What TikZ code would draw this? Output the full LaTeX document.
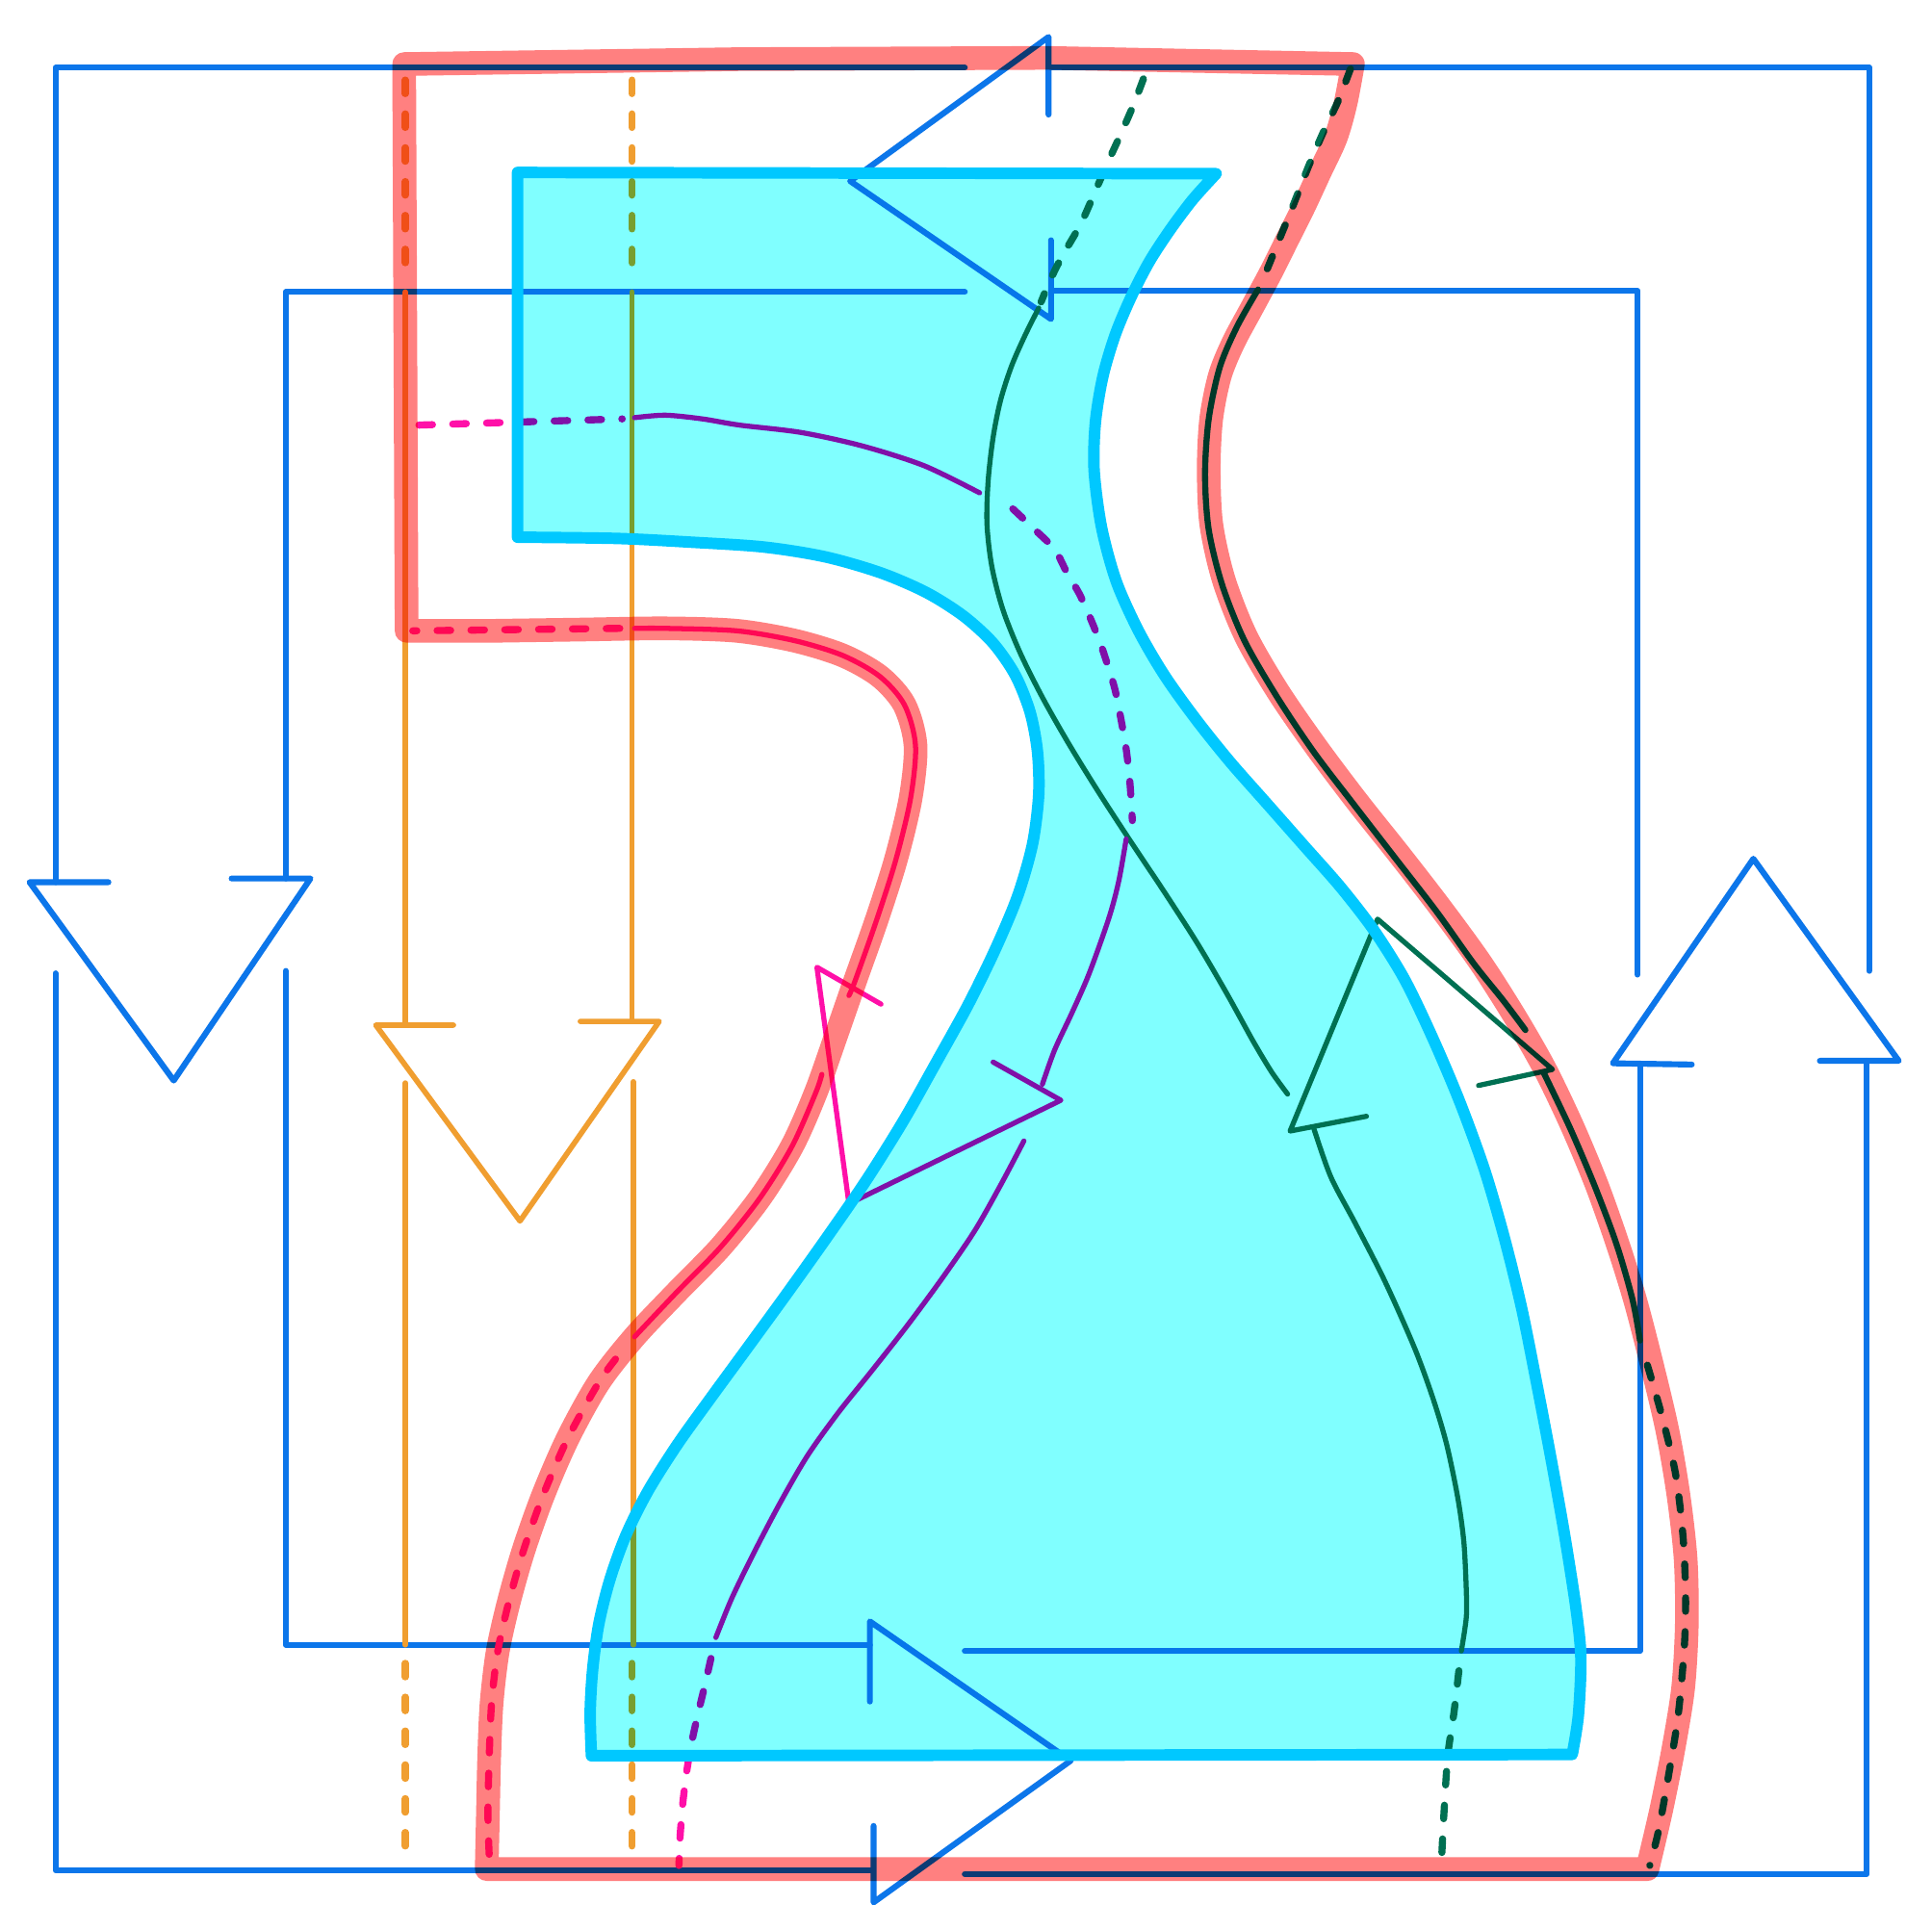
\documentclass[tikz,border=0pt]{standalone}
\definecolor{cblue}{RGB}{12,118,234}
\definecolor{corange}{RGB}{240,158,48}
\definecolor{cmag}{RGB}{255,16,168}
\definecolor{cgreen}{RGB}{0,112,82}
\definecolor{cred}{RGB}{255,128,128}
\definecolor{cfill}{RGB}{128,255,255}
\definecolor{cedge}{RGB}{0,200,255}
\begin{document}
\begin{tikzpicture}[x=0.0128cm,y=-0.0128cm, line cap=round, line join=round,
 bl/.style={draw=cblue,line width=1.75pt},
 orl/.style={draw=corange,line width=1.6pt},
 ord/.style={draw=corange,line width=2.1pt,dash pattern=on 4pt off 6pt},
 gl/.style={draw=cgreen,line width=1.5pt},
 gdl/.style={draw=cgreen,line width=1.8pt},
 gd/.style={draw=cgreen,line width=2.1pt,dash pattern=on 4pt off 6pt},
 ml/.style={draw=cmag,line width=1.5pt},
 md/.style={draw=cmag,line width=2.1pt,dash pattern=on 4pt off 6pt}]
\useasboundingbox (0,0) rectangle (1568,1566);
\fill[white] (0,0) rectangle (1568,1566);
% blue loops
\draw[bl] (783,55) -- (45,55) -- (45,716);
\draw[bl] (88,716) -- (24,716) -- (141,877) -- (252,713) -- (188,713);
\draw[bl] (45,790) -- (45,1518) -- (708,1518);
\draw[bl] (706,1381) -- (706,1316) -- (869,1429) -- (709,1544) -- (709,1482);
\draw[bl] (783,1521) -- (1515,1521) -- (1515,861);
\draw[bl] (1373,864) -- (1309,863) -- (1423,697) -- (1541,861) -- (1477,861);
\draw[bl] (1517,788) -- (1517,55) -- (851,55);
\draw[bl] (851,93) -- (851,30) -- (690,147) -- (853,259) -- (853,195);
\draw[bl] (783,237) -- (232,237) -- (232,713);
\draw[bl] (232,788) -- (232,1335) -- (706,1335);
\draw[bl] (783,1340) -- (1331,1340) -- (1331,864);
\draw[bl] (1329,791) -- (1329,236) -- (853,236);
% orange
\draw[ord] (329,65) -- (329,226);
\draw[orl] (329,237) -- (329,832);
\draw[orl] (368,832) -- (305,832) -- (422,991) -- (535,829) -- (471,829);
\draw[orl] (329,879) -- (329,1335);
\draw[ord] (329,1350) -- (329,1508);
\draw[ord] (513,65) -- (513,226);
\draw[orl] (513,237) -- (513,829);
\draw[orl] (514,878) -- (514,1335);
\draw[ord] (513,1350) -- (513,1506);
% green
\draw[gd] plot[smooth] coordinates {(928,64) (920,85) (910,108) (899,132) (889,155) (877,182) (862,208) (852,228) (845,245)};
\draw[gl] plot[smooth] coordinates {(843,250) (832,272) (821,297) (812,325) (806,355) (802,390) (801,425) (805,460) (814,495) (828,530) (846,566) (867,603) (891,642) (917,682) (945,724) (972,766) (996,807) (1017,845) (1032,870) (1045,888)};
\draw[gl] (1109,906) -- (1047,918) -- (1118,746) -- (1260,868) -- (1200,881);
\draw[gl] plot[smooth] coordinates {(1066,915) (1080,955) (1100,993) (1124,1040) (1148,1094) (1163,1135) (1174,1172) (1183,1215) (1188,1251) (1190,1290) (1190,1313) (1186,1340)};
\draw[gd] plot[smooth] coordinates {(1184,1356) (1180,1390) (1175,1425) (1172,1470) (1170,1508)};
\draw[gd] plot[smooth] coordinates {(1096,56) (1086,82) (1075,105) (1062,135) (1049,168) (1038,195) (1027,222)};
\draw[gdl] plot[smooth] coordinates {(1021,235) (1004,265) (990,298) (981,340) (978,385) (981,430) (992,475) (1010,520) (1036,565) (1066,610) (1098,652) (1132,696) (1166,740) (1196,782) (1220,812) (1238,836)};
\draw[gdl] plot[smooth] coordinates {(1253,871) (1274,915) (1294,962) (1312,1010) (1325,1055) (1331,1088)};
\draw[gd] plot[smooth] coordinates {(1337,1108) (1349,1150) (1360,1197) (1366,1248) (1368,1295) (1367,1336) (1362,1392) (1354,1442) (1346,1486) (1339,1514)};
% magenta
\draw[md] (340,345) -- (505,340);
\draw[ml] plot[smooth] coordinates {(515,339) (540,337) (570,340) (600,345) (650,351) (700,362) (750,378) (795,400)};
\draw[md] plot[smooth] coordinates {(822,413) (840,430) (856,446) (866,465) (876,482) (885,502) (893,522) (899,540) (905,560) (910,585) (914,608) (917,635) (919,666)};
\draw[ml] plot[smooth] coordinates {(914,681) (908,715) (900,745) (884,790) (870,822) (856,852) (846,880)};
\draw[ml] (806,862) -- (861,893) -- (689,977) -- (663,785) -- (715,815);
\draw[ml] plot[smooth] coordinates {(831,926) (812,962) (791,999) (765,1037) (737,1075) (708,1112) (680,1147) (655,1182) (633,1220) (612,1260) (594,1297) (581,1329)};
\draw[md] plot[smooth] coordinates {(577,1346) (572,1368) (566,1393) (561,1416) (557,1440) (554,1465) (552,1490) (551,1514)};
\draw[md] plot[smooth] coordinates {(397,1505) (396,1472) (397,1427) (399,1382) (404,1340) (413,1300) (425,1258) (441,1213) (461,1167) (486,1122) (502,1100)};
\draw[ml] plot[smooth] coordinates {(515,1085) (549,1049) (585,1012) (617,972) (643,930) (662,887) (667,872)};
\draw[ml] plot[smooth] coordinates {(689,808) (694,796) (711,748) (727,698) (739,648) (743,605) (734,572) (714,549) (684,532) (645,520) (598,512) (540,510) (515,510)};
\draw[md] (503,510) -- (335,512);
% red band
\begin{scope}[blend mode=multiply]
\draw[draw=cred,line width=7pt] (330,512) -- (328,52) -- (600,48) -- (850,47) -- (1098,52) -- plot[smooth] coordinates {(1098,52) (1092,84) (1084,112) (1071,140) (1058,168) (1044,196) (1031,222) (1016,250) (1001,278) (990,305) (983,340) (981,380) (983,425) (993,470) (1011,516) (1037,561) (1068,606) (1101,650) (1136,694) (1170,738) (1202,782) (1230,826) (1254,868) (1276,914) (1296,962) (1313,1010) (1327,1055) (1340,1105) (1353,1160) (1362,1212) (1368,1265) (1369,1318) (1366,1370) (1358,1420) (1348,1470) (1337,1517)} -- (395,1517) -- plot[smooth] coordinates {(395,1517) (396,1472) (397,1427) (399,1382) (404,1340) (413,1300) (425,1258) (441,1213) (461,1167) (486,1122) (515,1085) (549,1049) (585,1012) (617,972) (643,930) (662,887) (678,842) (694,796) (711,748) (727,698) (739,648) (743,605) (734,572) (714,549) (684,532) (645,520) (598,512) (540,510) (470,511) (400,512)} -- cycle;
\end{scope}
% cyan surface
\path[save path=\cyanshape] (420,140) -- (987,141) -- plot[smooth] coordinates {(987,141) (968,162) (950,186) (933,212) (918,241) (905,272) (895,306) (889,343) (888,382) (894,428) (906,472) (924,512) (945,548) (970,583) (998,618) (1028,652) (1058,686) (1088,720) (1115,755) (1140,795) (1163,843) (1185,895) (1205,950) (1221,1005) (1235,1062) (1247,1122) (1259,1185) (1270,1247) (1279,1305) (1283,1345) (1281,1392) (1276,1424)} -- (480,1425) -- plot[smooth] coordinates {(480,1425) (479,1390) (481,1355) (486,1318) (495,1282) (508,1246) (526,1210) (550,1172) (578,1133) (608,1092) (640,1048) (672,1003) (703,958) (733,910) (760,862) (786,815) (808,770) (826,727) (838,685) (843,645) (842,610) (836,578) (824,548) (806,522) (782,500) (752,481) (715,465) (670,452) (620,444) (560,440) (500,437) (420,436)} -- cycle;
\begin{scope}[blend mode=multiply]
\fill[cfill,use path=\cyanshape];
\end{scope}
\draw[cedge,line width=3.4pt,use path=\cyanshape];
\end{tikzpicture}
\end{document}
